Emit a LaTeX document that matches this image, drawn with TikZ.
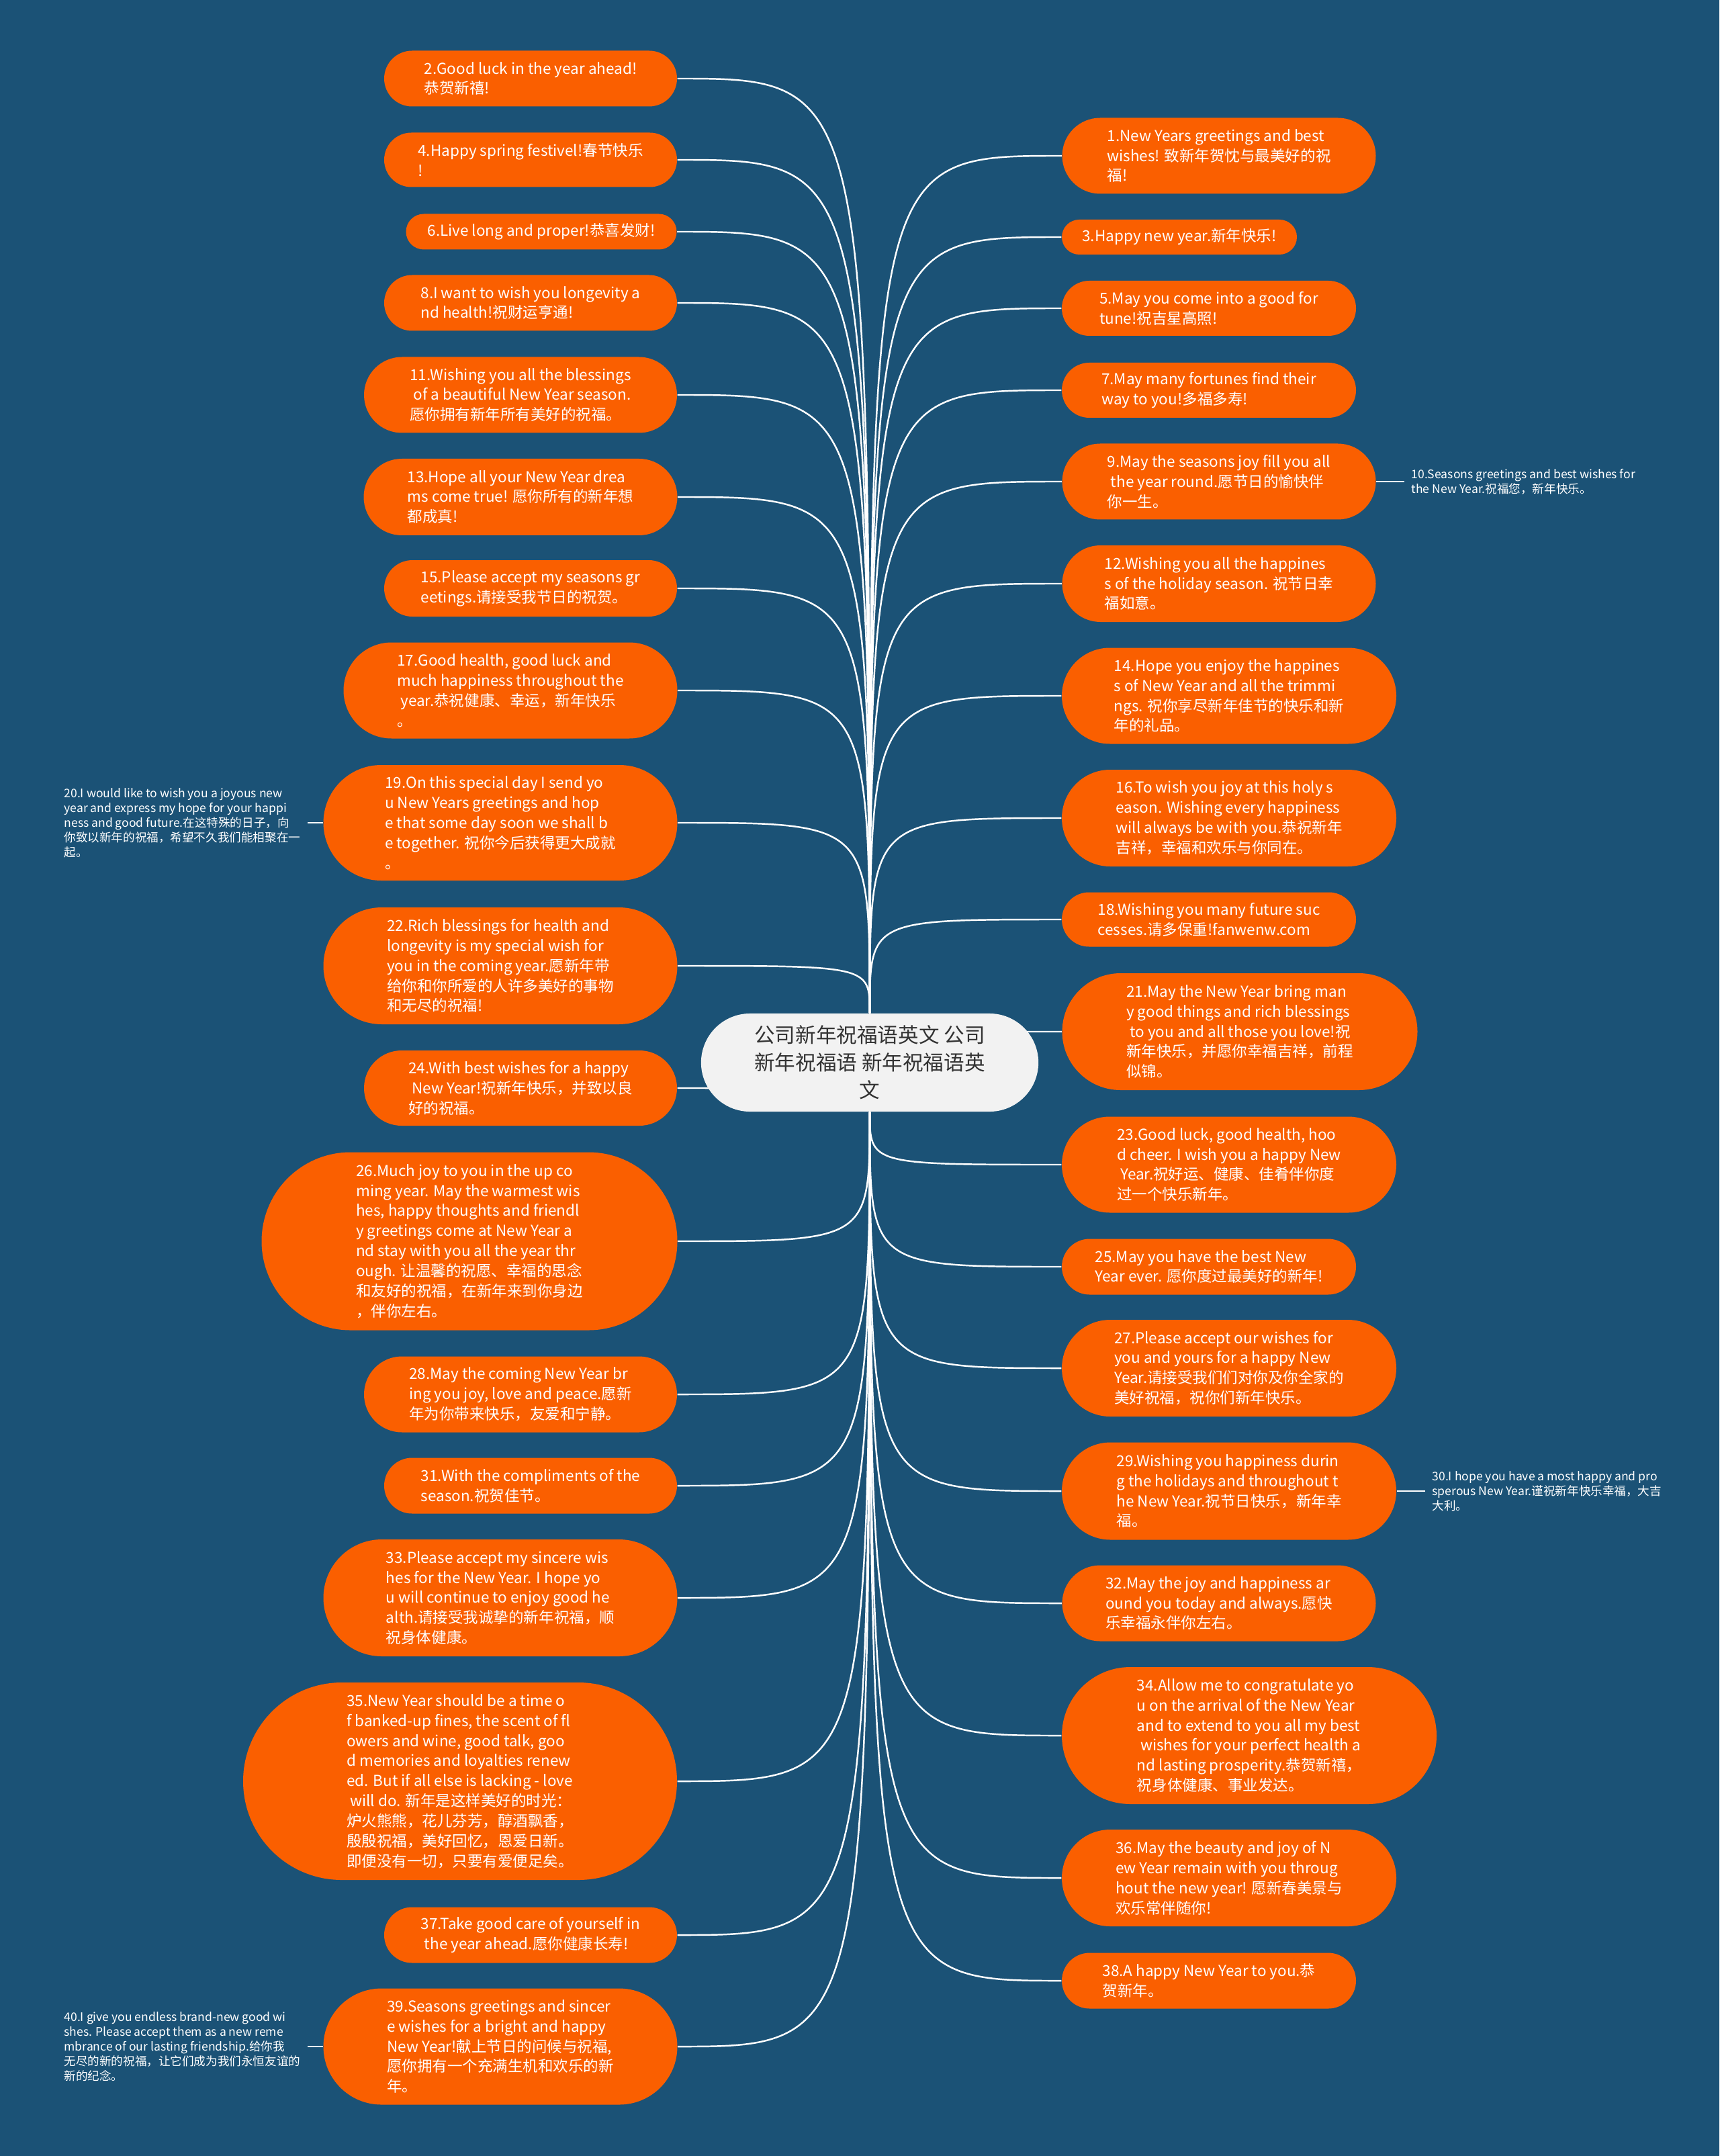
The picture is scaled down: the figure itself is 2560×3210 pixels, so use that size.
\documentclass[tikz,border=0pt]{standalone}
\usepackage{fontspec}
\setmainfont{Noto Sans CJK SC}
\usetikzlibrary{shapes.misc}

\definecolor{bgblue}{RGB}{27,82,118}
\definecolor{leaforange}{RGB}{250,95,0}
\definecolor{topicgray}{RGB}{242,242,242}
\definecolor{topicink}{RGB}{51,51,51}
\newcommand{\leaffont}{\fontsize{6.4pt}{8.5pt}\selectfont}
\newcommand{\notefont}{\fontsize{5pt}{6.25pt}\selectfont}
\newcommand{\topicfont}{\fontsize{8.7pt}{11.6pt}\selectfont}
\pgfdeclarelayer{back}
\pgfdeclarelayer{wires}
\pgfsetlayers{back,wires,main}

\begin{document}
\begin{tikzpicture}[x=0.01cm, y=-0.01cm,
    leaf/.style 2 args={rounded rectangle, fill=leaforange, text=white, align=left, font=\leaffont,
        inner sep=0pt, minimum width=#1*0.01cm, minimum height=#2*0.01cm},
    topic/.style={rounded rectangle, fill=topicgray, text=topicink, align=center, font=\topicfont,
        inner sep=0pt, minimum width=5.02cm, minimum height=1.46cm},
    note/.style={text=white, align=left, font=\notefont, inner sep=0pt, outer sep=3pt},
    link/.style={draw=white, line width=0.7pt}]
        \useasboundingbox (0,0) rectangle (2560,3210);
        \begin{pgfonlayer}{back}
        \fill[bgblue] (0,0) rectangle (2560,3210);
        \end{pgfonlayer}

        % centre
        \node[topic] (topic) at (1295,1582) {公司新年祝福语英文 公司\\新年祝福语 新年祝福语英\\文};

        % left side
        \node[leaf={436}{83}] (l2) at (790,117) {2.Good luck in the year ahead!\\恭贺新禧!};
        \node[leaf={436}{81}] (l4) at (790,238) {4.Happy spring festivel!春节快乐\\!};
        \node[leaf={403}{53}] (l6) at (806,345) {6.Live long and proper!恭喜发财!};
        \node[leaf={436}{83}] (l8) at (790,451) {8.I want to wish you longevity a\\nd health!祝财运亨通!};
        \node[leaf={466}{113}] (l11) at (775,588) {11.Wishing you all the blessings\\~of a beautiful New Year season.\\愿你拥有新年所有美好的祝福。};
        \node[leaf={467}{114}] (l13) at (775,740) {13.Hope all your New Year drea\\ms come true! 愿你所有的新年想\\都成真!};
        \node[leaf={436}{84}] (l15) at (790,876) {15.Please accept my seasons gr\\eetings.请接受我节日的祝贺。};
        \node[leaf={497}{143}] (l17) at (760,1028) {17.Good health, good luck and\\much happiness throughout the\\~year.恭祝健康、幸运，新年快乐\\。};
        \node[leaf={527}{172}] (l19) at (745,1225) {19.On this special day I send yo\\u New Years greetings and hop\\e that some day soon we shall b\\e together. 祝你今后获得更大成就\\。};
        \node[leaf={527}{174}] (l22) at (745,1438) {22.Rich blessings for health and\\longevity is my special wish for\\you in the coming year.愿新年带\\给你和你所爱的人许多美好的事物\\和无尽的祝福!};
        \node[leaf={466}{112}] (l24) at (775,1620) {24.With best wishes for a happy\\~New Year!祝新年快乐，并致以良\\好的祝福。};
        \node[leaf={619}{265}] (l26) at (699,1848) {26.Much joy to you in the up co\\ming year. May the warmest wis\\hes, happy thoughts and friendl\\y greetings come at New Year a\\nd stay with you all the year thr\\ough. 让温馨的祝愿、幸福的思念\\和友好的祝福，在新年来到你身边\\，伴你左右。};
        \node[leaf={466}{113}] (l28) at (775,2076) {28.May the coming New Year br\\ing you joy, love and peace.愿新\\年为你带来快乐，友爱和宁静。};
        \node[leaf={436}{83}] (l31) at (790,2212) {31.With the compliments of the\\season.祝贺佳节。};
        \node[leaf={527}{174}] (l33) at (745,2379) {33.Please accept my sincere wis\\hes for the New Year. I hope yo\\u will continue to enjoy good he\\alth.请接受我诚挚的新年祝福，顺\\祝身体健康。};
        \node[leaf={646}{294}] (l35) at (685,2652) {35.New Year should be a time o\\f banked-up fines, the scent of fl\\owers and wine, good talk, goo\\d memories and loyalties renew\\ed. But if all else is lacking - love\\~will do. 新年是这样美好的时光：\\炉火熊熊，花儿芬芳，醇酒飘香，\\殷殷祝福，美好回忆，恩爱日新。\\即便没有一切，只要有爱便足矣。};
        \node[leaf={436}{83}] (l37) at (790,2881) {37.Take good care of yourself in\\~the year ahead.愿你健康长寿!};
        \node[leaf={527}{173}] (l39) at (745,3047) {39.Seasons greetings and sincer\\e wishes for a bright and happy\\New Year!献上节日的问候与祝福,\\愿你拥有一个充满生机和欢乐的新\\年。};

        \node[note, anchor=west] (l20) at (85,1225) {20.I would like to wish you a joyous new\\year and express my hope for your happi\\ness and good future.在这特殊的日子，向\\你致以新年的祝福，希望不久我们能相聚在一\\起。};
        \node[note, anchor=west] (l40) at (85,3047) {40.I give you endless brand-new good wi\\shes. Please accept them as a new reme\\mbrance of our lasting friendship.给你我\\无尽的新的祝福，让它们成为我们永恒友谊的\\新的纪念。};

        % right side
        \node[leaf={467}{113}] (r1) at (1815,232) {1.New Years greetings and best\\wishes! 致新年贺忱与最美好的祝\\福!};
        \node[leaf={350}{52}] (r3) at (1756,353) {3.Happy new year.新年快乐!};
        \node[leaf={438}{82}] (r5) at (1800,459) {5.May you come into a good for\\tune!祝吉星高照!};
        \node[leaf={438}{82}] (r7) at (1800,581) {7.May many fortunes find their\\way to you!多福多寿!};
        \node[leaf={467}{113}] (r9) at (1815,717) {9.May the seasons joy fill you all\\~the year round.愿节日的愉快伴\\你一生。};
        \node[leaf={467}{114}] (r12) at (1815,869) {12.Wishing you all the happines\\s of the holiday season. 祝节日幸\\福如意。};
        \node[leaf={498}{143}] (r14) at (1830,1036) {14.Hope you enjoy the happines\\s of New Year and all the trimmi\\ngs. 祝你享尽新年佳节的快乐和新\\年的礼品。};
        \node[leaf={498}{144}] (r16) at (1830,1218) {16.To wish you joy at this holy s\\eason. Wishing every happiness\\will always be with you.恭祝新年\\吉祥，幸福和欢乐与你同在。};
        \node[leaf={438}{81}] (r18) at (1800,1369) {18.Wishing you many future suc\\cesses.请多保重!fanwenw.com};
        \node[leaf={529}{174}] (r21) at (1846,1536) {21.May the New Year bring man\\y good things and rich blessings\\~to you and all those you love!祝\\新年快乐，并愿你幸福吉祥，前程\\似锦。};
        \node[leaf={498}{143}] (r23) at (1830,1734) {23.Good luck, good health, hoo\\d cheer. I wish you a happy New\\~Year.祝好运、健康、佳肴伴你度\\过一个快乐新年。};
        \node[leaf={438}{83}] (r25) at (1800,1886) {25.May you have the best New\\Year ever. 愿你度过最美好的新年!};
        \node[leaf={498}{144}] (r27) at (1830,2037) {27.Please accept our wishes for\\you and yours for a happy New\\Year.请接受我们们对你及你全家的\\美好祝福，祝你们新年快乐。};
        \node[leaf={498}{145}] (r29) at (1830,2220) {29.Wishing you happiness durin\\g the holidays and throughout t\\he New Year.祝节日快乐，新年幸\\福。};
        \node[leaf={467}{113}] (r32) at (1815,2387) {32.May the joy and happiness ar\\ound you today and always.愿快\\乐幸福永伴你左右。};
        \node[leaf={558}{204}] (r34) at (1860,2584) {34.Allow me to congratulate yo\\u on the arrival of the New Year\\and to extend to you all my best\\~wishes for your perfect health a\\nd lasting prosperity.恭贺新禧，\\祝身体健康、事业发达。};
        \node[leaf={498}{144}] (r36) at (1830,2796) {36.May the beauty and joy of N\\ew Year remain with you throug\\hout the new year! 愿新春美景与\\欢乐常伴随你!};
        \node[leaf={438}{83}] (r38) at (1800,2949) {38.A happy New Year to you.恭\\贺新年。};

        \node[note, anchor=west] (r10) at (2091,717) {10.Seasons greetings and best wishes for\\the New Year.祝福您，新年快乐。};
        \node[note, anchor=west] (r30) at (2122,2220) {30.I hope you have a most happy and pro\\sperous New Year.谨祝新年快乐幸福，大吉\\大利。};

        \begin{pgfonlayer}{wires}
        \foreach \n in {l2,l4,l6,l8,l11,l13,l15,l17,l19,l22,l24,l26,l28,l31,l33,l35,l37,l39}
            \draw[link] (\n.east) .. controls (\n.east -| topic) .. (topic);
        \foreach \n in {r1,r3,r5,r7,r9,r12,r14,r16,r18,r21,r23,r25,r27,r29,r32,r34,r36,r38}
            \draw[link] (\n.west) .. controls (\n.west -| topic) .. (topic);
        \draw[link] (l19.west) -- (l20.east);
        \draw[link] (l39.west) -- (l40.east);
        \draw[link] (r9.east) -- (r10.west);
        \draw[link] (r29.east) -- (r30.west);
        \end{pgfonlayer}
    \end{tikzpicture}
\end{document}
